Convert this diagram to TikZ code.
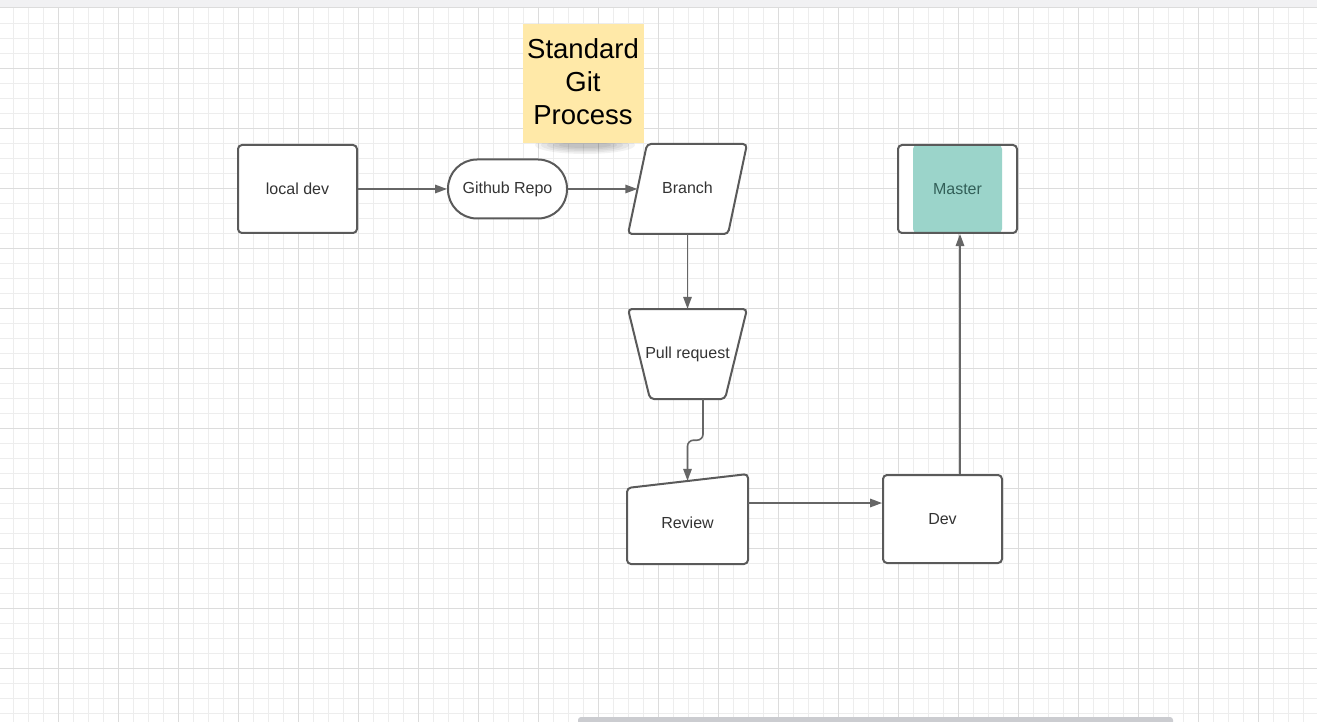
\documentclass[tikz,border=0pt]{standalone}
\usepackage{fontspec}
\setmainfont{Liberation Sans}
\usetikzlibrary{arrows.meta,calc}
\definecolor{gridminor}{RGB}{237,237,237}
\definecolor{gridmajor}{RGB}{220,220,220}
\definecolor{edge}{RGB}{90,90,90}
\definecolor{conncol}{RGB}{102,102,102}
\definecolor{txt}{RGB}{51,51,51}
\definecolor{sticky}{RGB}{255,233,168}
\definecolor{tealfill}{RGB}{155,212,202}
\definecolor{tealtxt}{RGB}{50,95,88}
\definecolor{barcol}{RGB}{241,241,243}
\definecolor{scroll}{RGB}{203,204,208}
\newcommand{\up}[2]{\raisebox{#1}{#2}}
\begin{document}
\begin{tikzpicture}[x=1pt,y=-1pt,
  box/.style={draw=edge, line width=2pt, rounded corners=4pt, minimum width=119pt, minimum height=88pt, inner sep=0pt, fill=white, font=\fontsize{16}{19}\selectfont, text=txt},
  ghost/.style={inner sep=0pt, font=\fontsize{16}{19}\selectfont, text=txt},
  outline/.style={draw=edge, line width=2pt, rounded corners=4pt, fill=white},
  conn/.style={draw=conncol, line width=1.6pt, -{Triangle[length=12pt,width=8.5pt]}},
  minorline/.style={draw=gridminor, line width=1pt},
  majorline/.style={draw=gridmajor, line width=1pt}
]
\useasboundingbox (0,0) rectangle (1317,722);
\clip (0,0) rectangle (1317,722);
\fill[white] (0,0) rectangle (1317,722);
% grid
\foreach \k in {0,...,87} \draw[minorline] ({13.3+15*\k},8) -- ({13.3+15*\k},722);
\foreach \k in {1,...,47} \draw[minorline] (0,{8.3+15*\k}) -- (1317,{8.3+15*\k});
\foreach \k in {0,...,20} \draw[majorline] ({58.3+60*\k},8) -- ({58.3+60*\k},722);
\foreach \k in {0,...,10} \draw[majorline] (0,{68.3+60*\k}) -- (1317,{68.3+60*\k});
% top bar and scrollbar
\fill[barcol] (0,0) rectangle (1317,8);
\draw[majorline] (0,8) -- (1317,8);
\fill[scroll, rounded corners=3pt] (578,717) rectangle (1173,732);
% sticky note
\foreach \rx/\ry in {50/9, 44/7.5, 38/6, 32/4.5, 26/3} \fill[black, opacity=0.05] (585,145) ellipse [x radius=\rx, y radius=\ry];
\node[fill=sticky, minimum width=121pt, minimum height=119pt, inner sep=0pt] (st) at (583,83.8) {};
\node[align=center, inner sep=0pt, font=\fontsize{27.5}{33}\selectfont, text=black, yshift=2.5pt] (sttext) at (st.center) {Standard\\Git\\Process};
% nodes
\node[box] (ld) at (297.5,189) {\up{1pt}{local dev}};
\node[box, rounded corners=29pt, minimum height=59pt] (gh) at (507.5,189) {\up{1.5pt}{Github Repo}};
\draw[outline] (647,144) -- (747,144) -- (728,234) -- (628,234) -- cycle;
\node[ghost, minimum width=100pt, minimum height=90pt] (br) at (687.5,189) {\up{2pt}{Branch}};
\draw[outline] (628,309) -- (747,309) -- (725,399) -- (650,399) -- cycle;
\node[ghost, minimum width=100pt, minimum height=90pt] (pr) at (687.5,354) {\up{1.5pt}{Pull request}};
\draw[outline] (627,488) -- (748,474) -- (748,564) -- (627,564) -- cycle;
\node[ghost, minimum width=121pt, minimum height=83pt] (rv) at (687.5,522.5) {\up{-1pt}{Review}};
\node[box] (dev) at (942.5,519) {\up{1pt}{Dev}};
\node[box, text=tealtxt, path picture={\fill[tealfill] ([xshift=15pt]path picture bounding box.south west) rectangle ([xshift=-15pt]path picture bounding box.north east);}] (ms) at (957.5,189) {\up{1pt}{Master}};
% connectors
\draw[conn] (ld.east) -- (gh.west);
\draw[conn] (gh.east) -- (br.west);
\draw[conn] (br.south) -- (pr.north);
\draw[conn, rounded corners=6pt] ([xshift=15.5pt]pr.south) -- ++(0,41) -| (rv.north);
\coordinate (rvout) at ([yshift=19.5pt]rv.east);
\draw[conn] (rvout) -- (rvout -| dev.west);
\coordinate (devout) at ([xshift=17.5pt]dev.north);
\draw[conn] (devout) -- (devout |- ms.south);
\end{tikzpicture}
\end{document}
